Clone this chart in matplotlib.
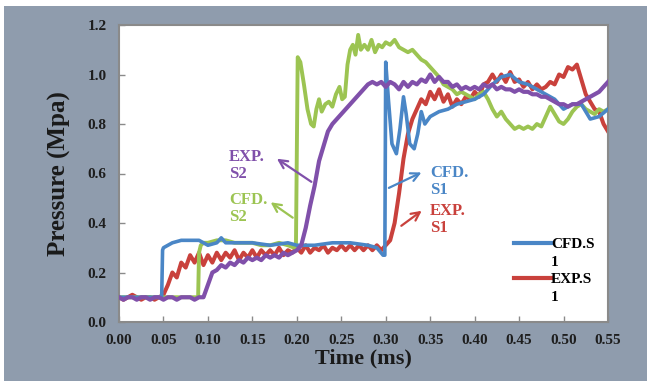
import numpy as np
import matplotlib
matplotlib.use('Agg')
import matplotlib.pyplot as plt
from matplotlib.lines import Line2D
from matplotlib.patches import Rectangle

# ---- data ----
# CFD S1 (blue)
t_cfd1 = [0, 0.02, 0.04, 0.048, 0.049, 0.05, 0.06, 0.07, 0.08, 0.09,
          0.10, 0.11, 0.115, 0.12, 0.13, 0.15, 0.17, 0.19, 0.20, 0.22, 0.24, 0.26, 0.28, 0.29,
          0.297, 0.299, 0.300, 0.303, 0.307, 0.312, 0.316, 0.32, 0.323, 0.327, 0.332, 0.336, 0.34, 0.344, 0.35,
          0.36, 0.37, 0.38, 0.39, 0.40, 0.41, 0.42, 0.43, 0.44, 0.45, 0.46, 0.47, 0.48, 0.49, 0.50,
          0.51, 0.52, 0.53, 0.54, 0.55]
p_cfd1 = [0.10, 0.10, 0.10, 0.10, 0.29, 0.30, 0.32, 0.33, 0.33, 0.33,
          0.31, 0.32, 0.34, 0.32, 0.32, 0.32, 0.31, 0.32, 0.31, 0.31, 0.32, 0.32, 0.31, 0.30,
          0.27, 0.27, 1.05, 0.90, 0.72, 0.68, 0.78, 0.91, 0.84, 0.72, 0.70, 0.76, 0.85, 0.80, 0.83,
          0.85, 0.86, 0.88, 0.89, 0.90, 0.92, 0.96, 0.99, 1.00, 0.97, 0.96, 0.94, 0.92, 0.90, 0.86,
          0.88, 0.88, 0.82, 0.83, 0.86]

# CFD S2 (green)
t_cfd2 = [0, 0.05, 0.089, 0.090, 0.092, 0.095, 0.10,
          0.11, 0.12, 0.13, 0.14, 0.15, 0.16, 0.17, 0.18, 0.19,
          0.197, 0.199, 0.201, 0.204, 0.208, 0.212, 0.216, 0.219, 0.222, 0.225, 0.228, 0.232, 0.236, 0.240, 0.244, 0.248,
          0.251, 0.254, 0.257, 0.260, 0.263, 0.266, 0.269, 0.272, 0.276, 0.280, 0.284, 0.288, 0.292, 0.296,
          0.300, 0.305, 0.310, 0.315, 0.320, 0.325, 0.330, 0.335, 0.340, 0.345, 0.350,
          0.355, 0.360, 0.365, 0.370, 0.375, 0.380, 0.385, 0.390, 0.395, 0.400,
          0.405, 0.410, 0.415, 0.420, 0.425, 0.430, 0.435, 0.440, 0.445, 0.450,
          0.455, 0.460, 0.465, 0.470, 0.475, 0.480, 0.485, 0.490, 0.495, 0.500,
          0.505, 0.510, 0.515, 0.520, 0.525, 0.530, 0.535, 0.540, 0.545, 0.550]
p_cfd2 = [0.10, 0.10, 0.10, 0.28, 0.31, 0.32, 0.32,
          0.33, 0.33, 0.32, 0.32, 0.32, 0.31, 0.31, 0.32, 0.31,
          0.30, 0.30, 1.07, 1.05, 0.96, 0.86, 0.80, 0.79, 0.86, 0.90, 0.85, 0.88, 0.89, 0.87, 0.92, 0.95,
          0.90, 0.91, 1.04, 1.10, 1.12, 1.08, 1.16, 1.10, 1.12, 1.10, 1.14, 1.09, 1.12, 1.11,
          1.13, 1.12, 1.14, 1.11, 1.10, 1.09, 1.10, 1.08, 1.06, 1.05, 1.03,
          1.01, 0.99, 0.96, 0.95, 0.94, 0.92, 0.93, 0.92, 0.91, 0.90,
          0.92, 0.93, 0.90, 0.86, 0.83, 0.85, 0.82, 0.80, 0.78, 0.79,
          0.78, 0.79, 0.78, 0.80, 0.79, 0.83, 0.87, 0.84, 0.81, 0.80,
          0.82, 0.85, 0.87, 0.88, 0.86, 0.85, 0.84, 0.86, 0.85, 0.86]

# experiments sampled every 0.005 ms
t_exp = np.round(np.arange(111) * 0.005, 3)

# EXP S1 (red)
p_exp1 = [0.10, 0.09, 0.10, 0.11, 0.10, 0.09, 0.10, 0.10, 0.09, 0.10,
          0.11, 0.15, 0.20, 0.18, 0.24, 0.22, 0.27, 0.24, 0.28, 0.23,
          0.27, 0.24, 0.28, 0.25, 0.28, 0.26, 0.29, 0.25, 0.28, 0.26,
          0.29, 0.26, 0.29, 0.27, 0.29, 0.27, 0.30, 0.27, 0.29, 0.28,
          0.30, 0.28, 0.31, 0.28, 0.30, 0.29, 0.31, 0.28, 0.30, 0.29,
          0.31, 0.29, 0.31, 0.29, 0.31, 0.29, 0.31, 0.29, 0.31, 0.29,
          0.31, 0.33, 0.40, 0.52, 0.66, 0.76, 0.82, 0.86, 0.90, 0.88,
          0.93, 0.90, 0.94, 0.89, 0.92, 0.87, 0.90, 0.88, 0.91, 0.90,
          0.93, 0.91, 0.96, 0.97, 1.00, 0.97, 1.00, 0.97, 1.01, 0.97,
          0.98, 0.95, 0.97, 0.94, 0.96, 0.94, 0.95, 0.97, 0.96, 1.00,
          0.99, 1.03, 1.02, 1.04, 0.98, 0.92, 0.89, 0.86, 0.85, 0.80,
          0.77]

# EXP S2 (purple)
p_exp2 = [0.10, 0.09, 0.10, 0.10, 0.09, 0.10, 0.10, 0.09, 0.10, 0.10,
          0.09, 0.10, 0.10, 0.09, 0.10, 0.10, 0.10, 0.09, 0.10, 0.10,
          0.15, 0.20, 0.21, 0.23, 0.22, 0.24, 0.23, 0.25, 0.24, 0.26,
          0.25, 0.26, 0.25, 0.27, 0.26, 0.27, 0.26, 0.28, 0.27, 0.28,
          0.29, 0.31, 0.38, 0.47, 0.55, 0.65, 0.71, 0.77, 0.80, 0.82,
          0.84, 0.86, 0.88, 0.90, 0.92, 0.94, 0.96, 0.97, 0.96, 0.97,
          0.95, 0.97, 0.96, 0.94, 0.97, 0.95, 0.97, 0.96, 0.98, 0.97,
          1.00, 0.97, 0.99, 0.97, 0.97, 0.95, 0.96, 0.94, 0.95, 0.94,
          0.95, 0.94, 0.96, 0.95, 0.96, 0.94, 0.95, 0.94, 0.94, 0.93,
          0.94, 0.93, 0.93, 0.92, 0.92, 0.91, 0.91, 0.90, 0.89, 0.88,
          0.88, 0.87, 0.88, 0.88, 0.89, 0.90, 0.91, 0.92, 0.93, 0.95,
          0.97]

x_ticks = [0.00, 0.05, 0.10, 0.15, 0.20, 0.25, 0.30, 0.35, 0.40, 0.45, 0.50, 0.55]
y_ticks = [0.0, 0.2, 0.4, 0.6, 0.8, 1.0, 1.2]

c_blue = '#4a86c6'
c_red = '#c9413c'
c_green = '#9cc452'
c_purple = '#8050aa'
c_bg = '#8f9cad'
serif = ['Liberation Serif', 'DejaVu Serif']

fig = plt.figure(figsize=(6.47, 3.81), dpi=100, facecolor='white')
fig.patches.append(Rectangle((4 / 647, 0), 1, 375 / 381, transform=fig.transFigure,
                             facecolor=c_bg, edgecolor='none', zorder=-10))
ax = fig.add_axes([119 / 647, (381 - 322) / 381, 489 / 647, 297 / 381])
ax.set_facecolor('white')

ax.plot(t_exp, p_exp1, color=c_red, lw=2.9, zorder=2)
ax.plot(t_cfd2, p_cfd2, color=c_green, lw=2.8, zorder=2)
ax.plot(t_cfd1, p_cfd1, color=c_blue, lw=2.6, zorder=3)
ax.plot(t_exp, p_exp2, color=c_purple, lw=3.0, zorder=4)

ax.set_xlim(0, 0.55)
ax.set_ylim(0, 1.2)
ax.set_xticks(x_ticks)
ax.set_xticklabels(['%.2f' % v for v in x_ticks])
ax.set_yticks(y_ticks)
ax.set_yticklabels(['%.1f' % v for v in y_ticks])
ax.tick_params(direction='in', length=4, width=1, color='#8a8a8a',
               labelsize=11, labelcolor='#1e1e1e', pad=9)
for lab in ax.get_xticklabels() + ax.get_yticklabels():
    lab.set_family(serif)
    lab.set_fontweight('bold')
for sp in ax.spines.values():
    sp.set_color('#8a8a8a')
    sp.set_linewidth(1.5)

ax.set_xlabel('Time (ms)', family=serif, fontweight='bold', fontsize=16, color='#1a1a1a', labelpad=1)
ax.set_ylabel('Pressure (Mpa)', family=serif, fontweight='bold', fontsize=18, color='#1a1a1a', labelpad=12)

# callouts
notes = [('EXP.\nS2', c_purple, (0.1235, 0.70), (0.175, 0.666), (0.219, 0.56)),
         ('CFD.\nS2', c_green, (0.1235, 0.525), (0.168, 0.49), (0.198, 0.415)),
         ('CFD.\nS1', c_blue, (0.35, 0.635), (0.343, 0.609), (0.3007, 0.537)),
         ('EXP.\nS1', c_red, (0.35, 0.48), (0.343, 0.456), (0.315, 0.382))]
for txt, col, tpos, head, tail in notes:
    ax.text(tpos[0], tpos[1], txt, color=col, family=serif, fontweight='bold',
            fontsize=12, va='top', ha='left', linespacing=1.1, zorder=5)
    ax.annotate('', xy=head, xytext=tail,
                arrowprops=dict(arrowstyle='->', color=col, lw=1.6, mutation_scale=15), zorder=5)

blank = Line2D([], [], color='none')
h_b = Line2D([], [], color=c_blue, lw=3)
h_r = Line2D([], [], color=c_red, lw=3)
leg = ax.legend([h_b, blank, h_r, blank], ['CFD.S', '1', 'EXP.S', '1'],
                loc='lower right', bbox_to_anchor=(0.985, 0.04), frameon=False,
                prop={'family': serif, 'weight': 'bold', 'size': 11},
                handlelength=2.4, handletextpad=0.0, labelspacing=0.25, borderaxespad=0)

fig.savefig('out.png', dpi=100, facecolor=fig.get_facecolor())
